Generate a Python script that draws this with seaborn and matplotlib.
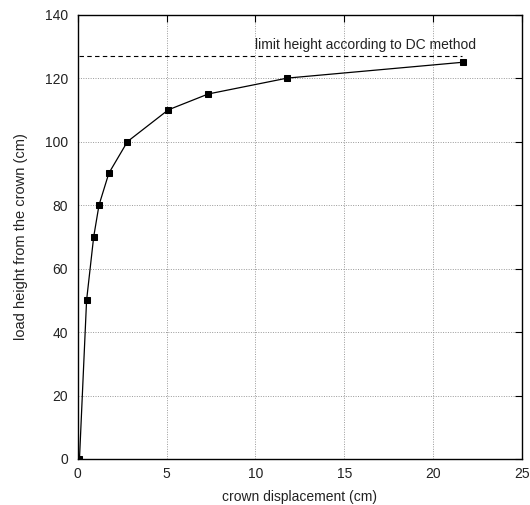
import matplotlib
matplotlib.use("Agg")
import matplotlib.pyplot as plt
import seaborn as sns
import pandas as pd

# Load test: crown displacement vs. load height
displacement_cm = [0.1, 0.5, 0.9, 1.2, 1.75, 2.8, 5.1, 7.35, 11.8, 21.7]
load_height_cm = [0, 50, 70, 80, 90, 100, 110, 115, 120, 125]

limit_height = 127
limit_span = [0.1, 21.6]
limit_label = "limit height according to DC method"

x_ticks = [0, 5, 10, 15, 20, 25]
y_ticks = [0, 20, 40, 60, 80, 100, 120, 140]

sns.set_theme(style="white")
plt.rcParams["font.family"] = ["Liberation Sans", "DejaVu Sans"]

df = pd.DataFrame({"disp": displacement_cm, "height": load_height_cm})

fig = plt.figure(figsize=(5.3, 5.05), dpi=100)
ax = fig.add_axes([0.1466, 0.0911, 0.8384, 0.88])

sns.lineplot(data=df, x="disp", y="height", ax=ax, color="black",
             linewidth=0.9, marker="s", markersize=4.5,
             markeredgecolor="black", markerfacecolor="black", sort=False)

ax.plot(limit_span, [limit_height, limit_height], color="black",
        linestyle=(0, (4, 3)), linewidth=0.8)
ax.text(10.0, limit_height + 1.3, limit_label, fontsize=10,
        color="#222222", ha="left", va="bottom")

ax.set_xlim(0, 25)
ax.set_ylim(0, 140)
ax.set_xticks(x_ticks)
ax.set_yticks(y_ticks)
ax.grid(True, color="#999999", linestyle=(0, (1, 1.5)), linewidth=0.7)
ax.tick_params(direction="in", length=5, width=0.8, top=True, right=True,
               labelsize=10, colors="black", labelcolor="#222222")
ax.tick_params(axis="x", pad=6)
ax.tick_params(axis="y", pad=7)
for s in ax.spines.values():
    s.set_color("black")
    s.set_linewidth(1.0)

ax.set_xlabel("crown displacement (cm)", fontsize=10, color="#222222", labelpad=6)
ax.set_ylabel("load height from the crown (cm)", fontsize=10.5, color="#222222", labelpad=12)

fig.savefig("out.png", dpi=100, facecolor="white")
